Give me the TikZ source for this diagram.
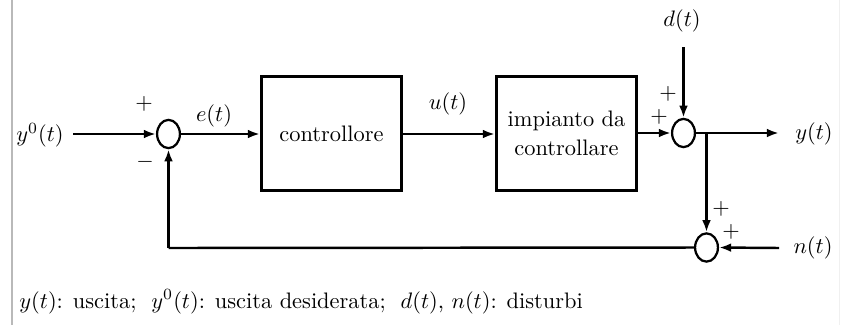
\documentclass[tikz,border=0pt]{standalone}
\usetikzlibrary{arrows.meta,shapes.geometric}
\begin{document}
\begin{tikzpicture}[x=0.4464pt,y=-0.4464pt,
  lbl/.style={font=\fontsize{10}{12}\selectfont, inner sep=0pt},
  blockbox/.style={draw, line width=1.2pt, minimum width=62.7pt, minimum height=51.1pt,
    font=\fontsize{10}{12}\selectfont, align=center, inner sep=0pt},
  sumnode/.style={draw, ellipse, line width=1pt, minimum width=10.2pt,
    minimum height=12.6pt, inner sep=0pt},
  sig/.style={line width=1.1pt, -{Latex[length=5.4pt,width=3.9pt]}},
  wire/.style={line width=1.1pt}]
  % canvas
  \useasboundingbox (0,0) rectangle (846,325);
  \draw[gray!55, line width=0.45pt] (12,0) -- (12,325);
  \draw[gray!12, line width=0.45pt] (839,0) -- (839,325);

  % blocks and summing junctions
  \node[blockbox] (ctrl) at (331.5,133.5) {controllore};
  \node[blockbox] (plant) at (566.5,133.5) {impianto da\\[1pt]controllare};
  \node[sumnode] (s1) at (168.5,134) {};
  \node[sumnode] (s2) at (683.5,133) {};
  \node[sumnode] (s3) at (706.5,247.5) {};

  % signal labels
  \node[lbl] (ref) at (40,135) {$y^0(t)$};
  \node[lbl] (dist) at (682,21) {$d(t)$};
  \node[lbl] (out) at (814,134) {$y(t)$};
  \node[lbl] (noise) at (813,248) {$n(t)$};
  \node[lbl] (elab) at (214,116) {$e(t)$};
  \node[lbl] (ulab) at (448,104) {$u(t)$};
  \coordinate (refend) at (73,134);
  \coordinate (distend) at (683.5,47);
  \coordinate (outend) at (779,133);
  \coordinate (noiseend) at (779,248);
  \coordinate (branch) at (706.5,133);
  \coordinate (fbcorner) at (168.5,248);

  % forward path
  \draw[sig] (refend) -- (s1.west);
  \draw[sig] (s1.east) -- (s1.east -| ctrl.west);
  \draw[sig] (ctrl.east |- s1.east) -- (plant.west |- s1.east);
  \draw[sig] (plant.east |- s2.west) -- (s2.west);
  \draw[sig] (distend) -- (s2.north);
  \draw[sig] (s2.east) -- (outend);

  % measurement and feedback
  \draw[sig] (branch) -- (s3.north);
  \draw[sig] (noiseend) -- (s3.east);
  \draw[wire] (s3.west) -- (fbcorner);
  \draw[sig] (fbcorner) -- (s1.south);

  % signs
  \node[lbl] (p1) at (144,104) {$+$};
  \node[lbl] (m1) at (145,162) {$-$};
  \node[lbl] (p2) at (668,94) {$+$};
  \node[lbl] (p3) at (659,117) {$+$};
  \node[lbl] (p4) at (721,209) {$+$};
  \node[lbl] (p5) at (731,232) {$+$};

  % legend
  \node[lbl, anchor=base west] (legend) at (19,308)
    {$y(t)$: uscita;\ \ $y^0(t)$: uscita desiderata;\ \ $d(t)$, $n(t)$: disturbi};
\end{tikzpicture}
\end{document}
